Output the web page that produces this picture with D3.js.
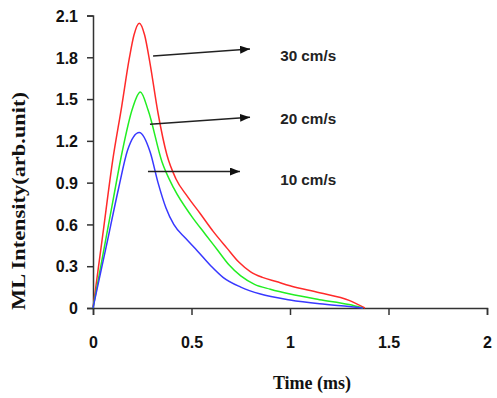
<!DOCTYPE html>
<html>
<head>
<meta charset="utf-8">
<script src="https://cdn.jsdelivr.net/npm/d3@7"></script>
<style>
  body { margin: 0; background: #fff; }
  .tick text { font-family: Arial, "Liberation Sans", sans-serif; font-weight: bold; font-size: 16px; fill: #111; }
</style>
</head>
<body>
<div id="chart"></div>
<script>
// ML intensity vs time, three speeds
const xTicks = [0, 0.5, 1, 1.5, 2];
const yTicks = [0, 0.3, 0.6, 0.9, 1.2, 1.5, 1.8, 2.1];

const speed30 = [[0,0],[0.05,0.53],[0.1,1.06],[0.146,1.45],[0.184,1.79],[0.208,1.96],[0.235,2.045],
  [0.262,1.96],[0.289,1.76],[0.33,1.4],[0.375,1.1],[0.42,0.93],[0.48,0.8],[0.543,0.68],[0.61,0.55],
  [0.68,0.43],[0.74,0.33],[0.8,0.26],[0.86,0.22],[0.93,0.19],[1.0,0.16],[1.15,0.11],[1.3,0.055],[1.38,0]];
const speed20 = [[0,0],[0.05,0.38],[0.1,0.76],[0.148,1.12],[0.2,1.43],[0.24,1.55],[0.28,1.42],[0.35,1.05],
  [0.41,0.86],[0.5,0.66],[0.57,0.53],[0.63,0.42],[0.69,0.31],[0.75,0.23],[0.82,0.17],[0.9,0.135],
  [1.0,0.1],[1.15,0.06],[1.3,0.025],[1.37,0]];
const speed10 = [[0,0],[0.067,0.44],[0.13,0.86],[0.175,1.13],[0.235,1.26],[0.29,1.12],[0.33,0.9],
  [0.37,0.72],[0.41,0.6],[0.47,0.5],[0.53,0.41],[0.6,0.3],[0.66,0.22],[0.75,0.15],[0.85,0.1],
  [1.0,0.058],[1.15,0.03],[1.3,0.01],[1.37,0]];

const seriesColors = ["#ff2a2a", "#22ee22", "#3838ff"];
const speedLabels = ["30 cm/s", "20 cm/s", "10 cm/s"];
// arrow start/end in data units [t, v]
const arrowFrom = [[0.305,1.81],[0.289,1.32],[0.279,0.98]];
const arrowTo   = [[0.797,1.86],[0.797,1.37],[0.746,0.98]];
const labelPos  = [[0.95,1.81],[0.95,1.36],[0.95,0.92]];

const width = 497, height = 398;
const margin = { left: 93, right: 10, top: 15.5, bottom: 90 };

const svg = d3.select("#chart").append("svg")
  .attr("width", width).attr("height", height);

const x = d3.scaleLinear().domain([0, 2]).range([margin.left, width - margin.right]);
const y = d3.scaleLinear().domain([0, 2.1]).range([height - margin.bottom, margin.top]);

const xa = svg.append("g")
  .attr("transform", "translate(0," + y(0) + ")")
  .call(d3.axisBottom(x).tickValues(xTicks).tickFormat(d3.format("")).tickSize(7).tickPadding(22));
const ya = svg.append("g")
  .attr("transform", "translate(" + x(0) + ",0)")
  .call(d3.axisLeft(y).tickValues(yTicks).tickFormat(d => d === 0 ? "0" : d3.format(".1f")(d)).tickSize(6).tickPadding(9));

[xa, ya].forEach(a => {
  a.select(".domain").attr("stroke", "#333").attr("stroke-width", 1.5);
  a.selectAll(".tick line").attr("stroke", "#333").attr("stroke-width", 1.5);
});
ya.selectAll(".tick text").attr("dy", "0.36em");

const line = d3.line().x(d => x(d[0])).y(d => y(d[1])).curve(d3.curveMonotoneX);

[speed30, speed20, speed10].forEach((s, i) => {
  svg.append("path")
    .datum(s)
    .attr("fill", "none")
    .attr("stroke", seriesColors[i])
    .attr("stroke-width", 1.5)
    .attr("d", line);
});

svg.append("defs").append("marker")
  .attr("id", "head")
  .attr("viewBox", "0 0 10 8")
  .attr("refX", 10).attr("refY", 4)
  .attr("markerWidth", 10).attr("markerHeight", 8)
  .attr("markerUnits", "userSpaceOnUse")
  .attr("orient", "auto")
  .append("path").attr("d", "M0,0L10,4L0,8Z").attr("fill", "#111");

arrowFrom.forEach((a, i) => {
  svg.append("line")
    .attr("x1", x(a[0])).attr("y1", y(a[1]))
    .attr("x2", x(arrowTo[i][0])).attr("y2", y(arrowTo[i][1]))
    .attr("stroke", "#222").attr("stroke-width", 1.5)
    .attr("marker-end", "url(#head)");
  svg.append("text")
    .attr("x", x(labelPos[i][0])).attr("y", y(labelPos[i][1]))
    .attr("dy", "0.36em")
    .attr("textLength", 56).attr("lengthAdjust", "spacingAndGlyphs")
    .style("font-family", "'Liberation Sans Narrow', 'Arial Narrow', Arial, sans-serif")
    .style("font-weight", "bold").style("font-size", "15px").style("fill", "#222")
    .text(speedLabels[i]);
});

svg.append("text")
  .attr("x", 312).attr("y", 389)
  .attr("text-anchor", "middle")
  .style("font-family", "'Times New Roman', 'Liberation Serif', serif")
  .style("font-weight", "bold").style("font-size", "18px").style("fill", "#111")
  .text("Time (ms)");

svg.append("text")
  .attr("transform", "translate(25,201) rotate(-90)")
  .attr("text-anchor", "middle")
  .attr("textLength", 218).attr("lengthAdjust", "spacingAndGlyphs")
  .style("font-family", "'Times New Roman', 'Liberation Serif', serif")
  .style("font-weight", "bold").style("font-size", "18px").style("fill", "#111")
  .text("ML Intensity(arb.unit)");
</script>
</body>
</html>
